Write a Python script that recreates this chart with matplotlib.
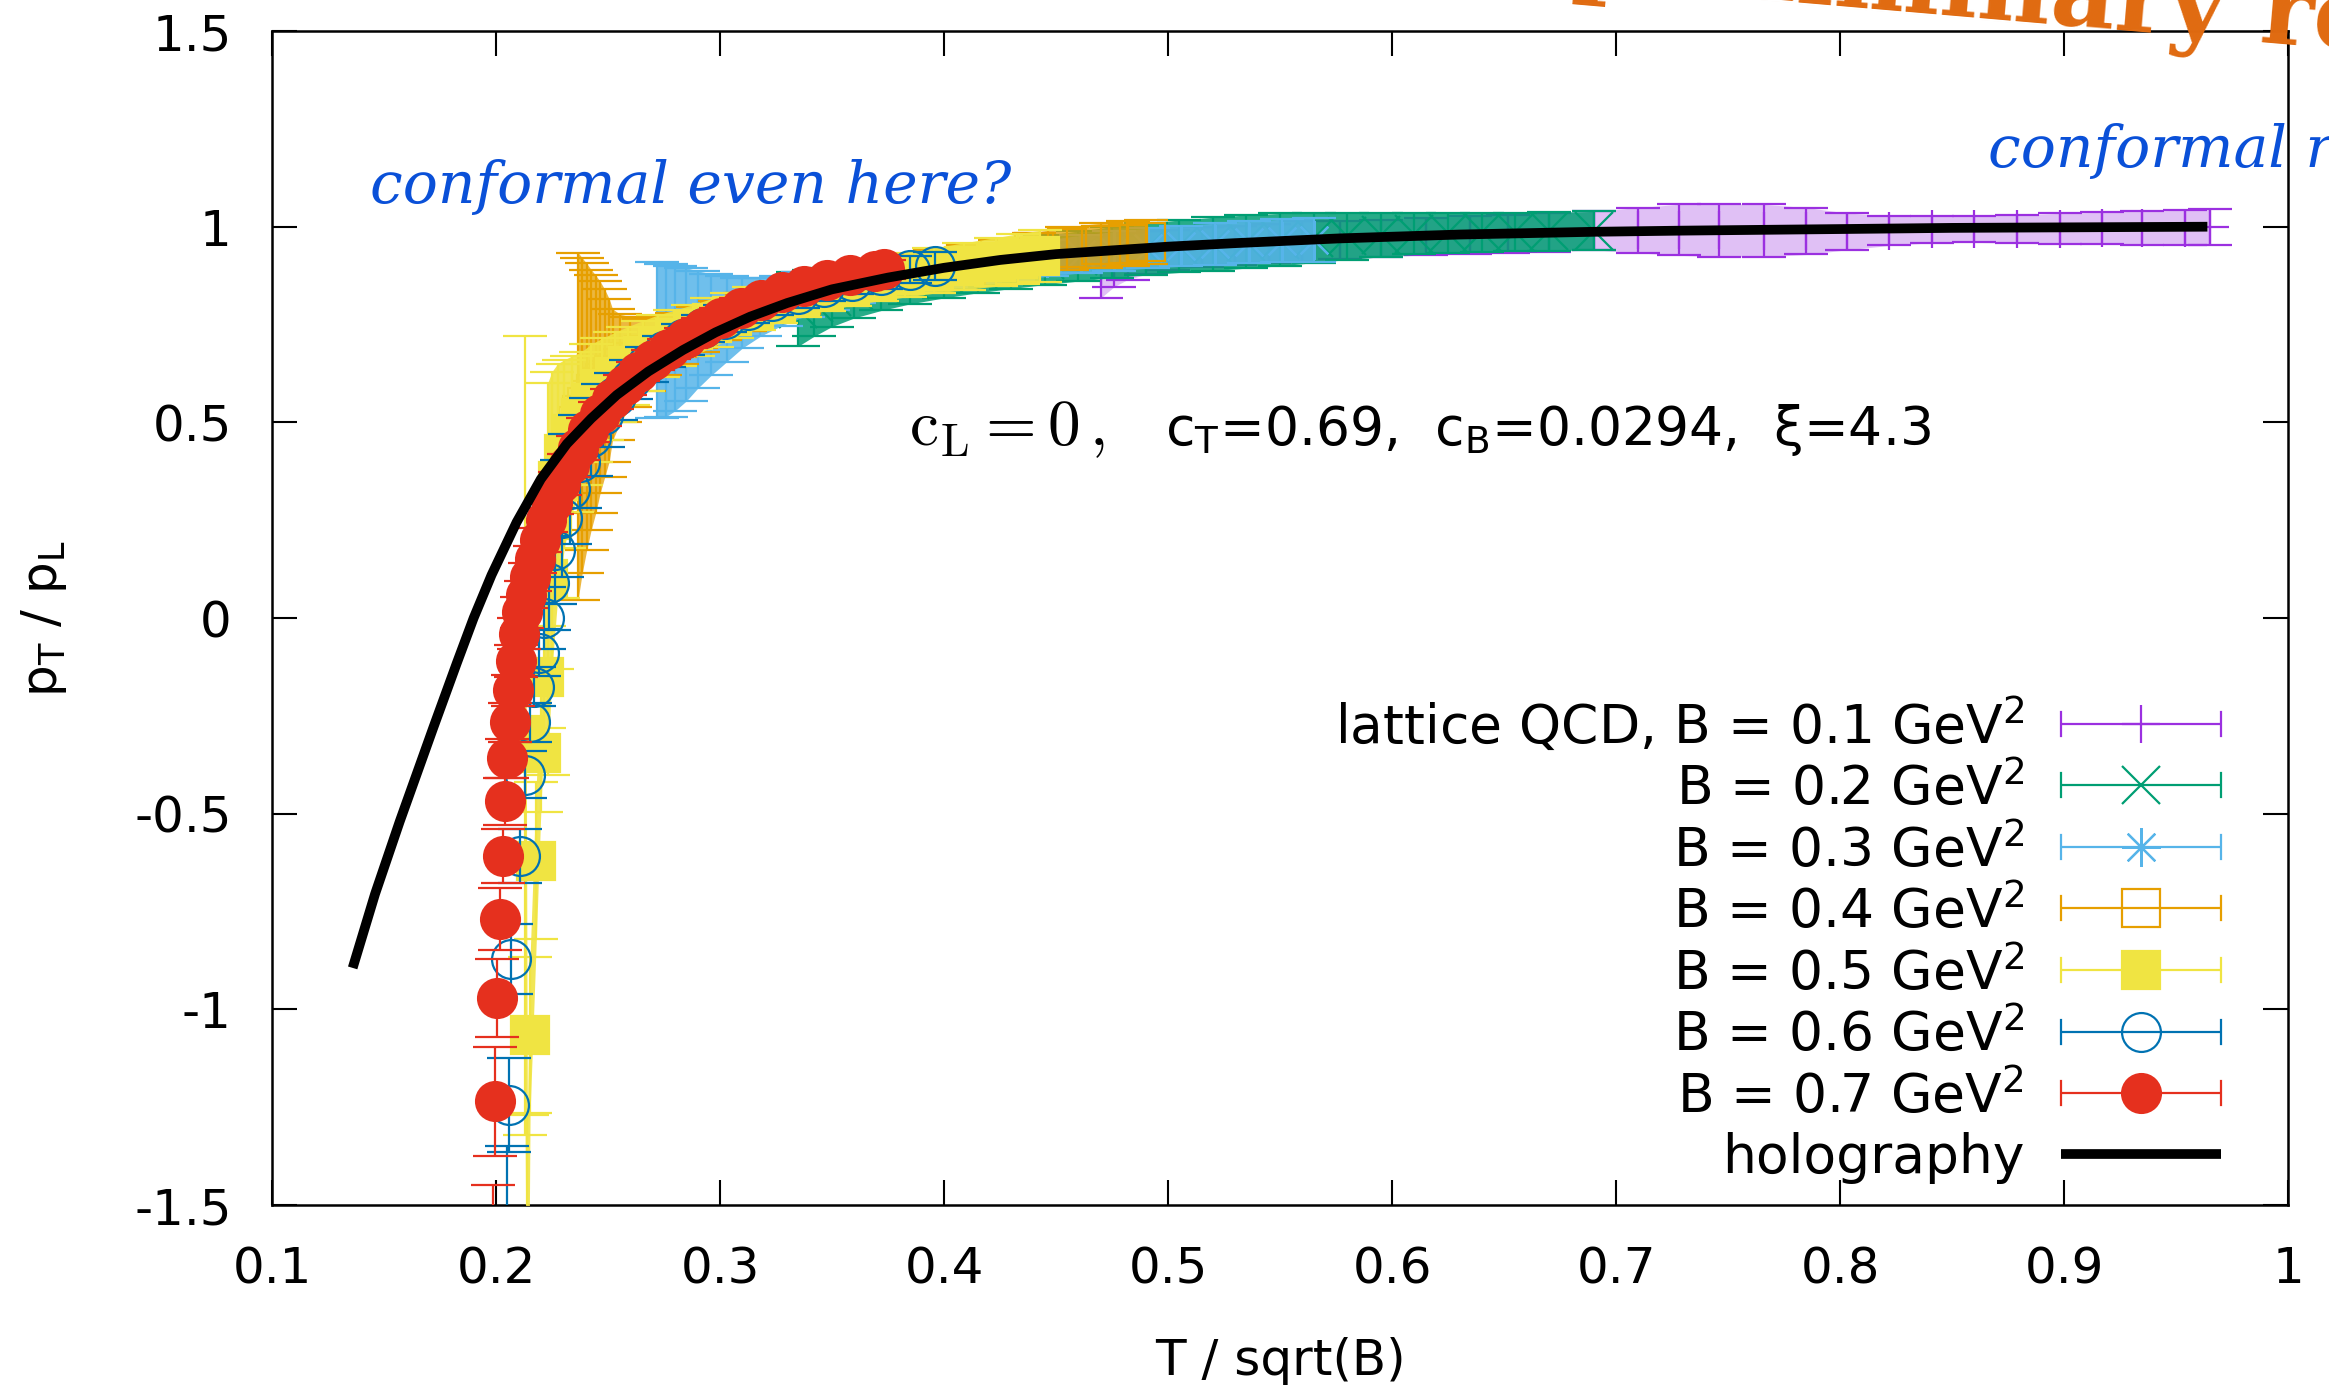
import numpy as np
import matplotlib.pyplot as plt
from matplotlib.lines import Line2D
from matplotlib.legend_handler import HandlerBase
from matplotlib.ticker import FormatStrFormatter

plt.rcParams['font.family'] = 'DejaVu Sans'
plt.rcParams['mathtext.fontset'] = 'dejavusans'
plt.rcParams['axes.unicode_minus'] = False

# lattice QCD, pT/pL vs T/sqrt(B) for each field strength
x_b01 = [0.470, 0.476, 0.482, 0.490, 0.500, 0.515, 0.530, 0.545, 0.560, 0.577, 0.595,
         0.615, 0.635, 0.652, 0.670, 0.690, 0.710, 0.728, 0.746, 0.766, 0.785, 0.803,
         0.822, 0.841, 0.860, 0.879, 0.898, 0.917, 0.935, 0.954, 0.965]
y_b01 = [0.900, 0.912, 0.925, 0.933, 0.940, 0.948, 0.953, 0.957, 0.962, 0.966, 0.970,
         0.975, 0.979, 0.982, 0.986, 0.990, 0.991, 0.992, 0.991, 0.990, 0.989, 0.988,
         0.990, 0.993, 0.994, 0.994, 0.995, 0.996, 0.997, 0.997, 0.998]
e_b01 = [0.082, 0.065, 0.060, 0.055, 0.051, 0.050, 0.050, 0.051, 0.053, 0.048, 0.047,
         0.047, 0.048, 0.049, 0.050, 0.049, 0.058, 0.065, 0.068, 0.067, 0.060, 0.047,
         0.038, 0.034, 0.034, 0.036, 0.039, 0.041, 0.043, 0.045, 0.046]

x_b02 = [0.335, 0.342, 0.350, 0.360, 0.372, 0.385, 0.400, 0.415, 0.430, 0.445, 0.460,
         0.475, 0.490, 0.505, 0.520, 0.535, 0.550, 0.565, 0.580, 0.595, 0.610, 0.625,
         0.640, 0.655, 0.670, 0.690]
y_b02 = [0.790, 0.805, 0.820, 0.835, 0.850, 0.865, 0.880, 0.893, 0.905, 0.915, 0.925,
         0.935, 0.943, 0.950, 0.956, 0.962, 0.967, 0.972, 0.976, 0.979, 0.982, 0.984,
         0.986, 0.987, 0.988, 0.990]
e_b02 = [0.095, 0.085, 0.075, 0.068, 0.064, 0.062, 0.062, 0.062, 0.063, 0.063, 0.064,
         0.065, 0.066, 0.067, 0.068, 0.068, 0.067, 0.064, 0.060, 0.056, 0.053, 0.051,
         0.050, 0.049, 0.049, 0.049]

x_b03 = [0.272, 0.276, 0.280, 0.285, 0.290, 0.296, 0.303, 0.310, 0.318, 0.327, 0.337,
         0.348, 0.360, 0.373, 0.387, 0.401, 0.416, 0.431, 0.446, 0.461, 0.476, 0.491,
         0.506, 0.521, 0.536, 0.551, 0.565]
y_b03 = [0.710, 0.710, 0.715, 0.725, 0.737, 0.750, 0.765, 0.780, 0.795, 0.810, 0.826,
         0.840, 0.853, 0.866, 0.878, 0.890, 0.900, 0.910, 0.920, 0.930, 0.938, 0.945,
         0.951, 0.956, 0.961, 0.964, 0.967]
e_b03 = [0.200, 0.195, 0.185, 0.170, 0.150, 0.130, 0.110, 0.090, 0.075, 0.064, 0.057,
         0.052, 0.048, 0.046, 0.045, 0.045, 0.045, 0.046, 0.047, 0.048, 0.050, 0.051,
         0.052, 0.053, 0.054, 0.055, 0.056]

x_b04 = [0.2366, 0.2385, 0.2405, 0.2425, 0.2445, 0.2465, 0.2485, 0.2505, 0.2520, 0.2555,
         0.2600, 0.2660, 0.2730, 0.2810, 0.2900, 0.3000, 0.3110, 0.3230, 0.3360, 0.3500,
         0.3650, 0.3800, 0.3950, 0.4100, 0.4250, 0.4400, 0.4550, 0.4700, 0.4820, 0.4900]
y_b04 = [0.490, 0.518, 0.540, 0.558, 0.572, 0.590, 0.600, 0.608, 0.622, 0.638,
         0.655, 0.672, 0.695, 0.715, 0.738, 0.760, 0.782, 0.805, 0.826, 0.845,
         0.862, 0.878, 0.892, 0.905, 0.920, 0.935, 0.945, 0.952, 0.957, 0.960]
e_b04 = [0.444, 0.402, 0.366, 0.332, 0.304, 0.270, 0.240, 0.208, 0.168, 0.138,
         0.115, 0.092, 0.075, 0.065, 0.058, 0.050, 0.048, 0.045, 0.042, 0.040,
         0.038, 0.037, 0.036, 0.040, 0.045, 0.050, 0.055, 0.057, 0.057, 0.056]

x_b05 = [0.2130, 0.2140, 0.2152, 0.2180, 0.2200, 0.2215, 0.2230, 0.2250, 0.2275, 0.2305,
         0.2340, 0.2380, 0.2425, 0.2475, 0.2530, 0.2590, 0.2655, 0.2725, 0.2800, 0.2880,
         0.2965, 0.3055, 0.3150, 0.3250, 0.3355, 0.3465, 0.3580, 0.3700, 0.3825, 0.3955,
         0.4090, 0.4230, 0.4330, 0.4430]
y_b05 = [-0.300, -1.750, -1.066, -0.620, -0.345, -0.151, 0.100, 0.250, 0.350, 0.420,
         0.470, 0.510, 0.550, 0.585, 0.615, 0.645, 0.670, 0.695, 0.715, 0.735,
         0.755, 0.773, 0.790, 0.806, 0.822, 0.837, 0.851, 0.864, 0.876, 0.888,
         0.899, 0.910, 0.918, 0.925]
e_b05 = [1.020, 0.480, 0.200, 0.200, 0.150, 0.130, 0.500, 0.380, 0.300, 0.240,
         0.200, 0.170, 0.150, 0.130, 0.115, 0.100, 0.090, 0.080, 0.072, 0.066,
         0.062, 0.058, 0.055, 0.053, 0.052, 0.052, 0.053, 0.054, 0.056, 0.058,
         0.060, 0.062, 0.064, 0.066]

x_b06 = [0.2050, 0.2060, 0.2068, 0.2105, 0.2130, 0.2150, 0.2170, 0.2190, 0.2212, 0.2236,
         0.2264, 0.2296, 0.2332, 0.2374, 0.2422, 0.2476, 0.2536, 0.2602, 0.2674, 0.2752,
         0.2836, 0.2926, 0.3022, 0.3124, 0.3232, 0.3346, 0.3466, 0.3590, 0.3718, 0.3850,
         0.3960]
y_b06 = [-1.800, -1.245, -0.871, -0.608, -0.400, -0.266, -0.176, -0.089, 0.000, 0.090,
         0.175, 0.255, 0.330, 0.400, 0.462, 0.518, 0.567, 0.610, 0.648, 0.682,
         0.712, 0.740, 0.765, 0.788, 0.809, 0.828, 0.846, 0.862, 0.877, 0.890,
         0.900]
e_b06 = [0.450, 0.120, 0.090, 0.070, 0.060, 0.050, 0.050, 0.060, 0.080, 0.120,
         0.140, 0.150, 0.140, 0.120, 0.100, 0.080, 0.060, 0.050, 0.045, 0.040,
         0.040, 0.035, 0.035, 0.035, 0.035, 0.035, 0.035, 0.035, 0.035, 0.035,
         0.035]

x_b07 = [0.1985, 0.1996, 0.2004, 0.2018, 0.2031, 0.2040, 0.2049, 0.2062, 0.2076, 0.2090,
         0.2104, 0.2118, 0.2134, 0.2152, 0.2172, 0.2195, 0.2222, 0.2252, 0.2286, 0.2324,
         0.2366, 0.2412, 0.2462, 0.2516, 0.2574, 0.2636, 0.2702, 0.2772, 0.2846, 0.2924,
         0.3006, 0.3092, 0.3182, 0.3276, 0.3374, 0.3476, 0.3582, 0.3690, 0.3730]
y_b07 = [-1.750, -1.235, -0.971, -0.769, -0.608, -0.468, -0.358, -0.266, -0.185, -0.110,
         -0.040, 0.015, 0.060, 0.105, 0.150, 0.200, 0.250, 0.295, 0.344, 0.390,
         0.435, 0.480, 0.522, 0.560, 0.596, 0.630, 0.660, 0.688, 0.716, 0.742,
         0.767, 0.792, 0.813, 0.832, 0.849, 0.863, 0.876, 0.887, 0.891]
e_b07 = [0.300, 0.140, 0.100, 0.080, 0.070, 0.060, 0.050, 0.050, 0.040, 0.040,
         0.040, 0.040, 0.035, 0.035, 0.035, 0.030, 0.030, 0.030, 0.030, 0.030,
         0.030, 0.030, 0.030, 0.025, 0.025, 0.025, 0.025, 0.025, 0.025, 0.025,
         0.025, 0.025, 0.025, 0.025, 0.025, 0.025, 0.025, 0.025, 0.025]

# holographic model curve
x_holo = [0.136, 0.146, 0.157, 0.172, 0.1825, 0.190, 0.198, 0.2092, 0.220, 0.2316,
          0.2425, 0.2539, 0.268, 0.2835, 0.298, 0.3134, 0.330, 0.350, 0.375, 0.400,
          0.425, 0.450, 0.500, 0.530, 0.576, 0.630, 0.690, 0.730, 0.800, 0.850, 0.964]
y_holo = [-0.894, -0.705, -0.520, -0.280, -0.115, 0.000, 0.110, 0.245, 0.355, 0.445,
          0.510, 0.570, 0.630, 0.685, 0.730, 0.770, 0.805, 0.840, 0.870, 0.895,
          0.915, 0.930, 0.949, 0.958, 0.970, 0.980, 0.987, 0.990, 0.994, 0.997, 1.000]

labels = ['lattice QCD, B = 0.1 GeV$^2$', 'B = 0.2 GeV$^2$', 'B = 0.3 GeV$^2$',
          'B = 0.4 GeV$^2$', 'B = 0.5 GeV$^2$', 'B = 0.6 GeV$^2$', 'B = 0.7 GeV$^2$']

series = [
    (x_b01, y_b01, e_b01, '#9b30e0', dict(marker='+'), 0.3),
    (x_b02, y_b02, e_b02, '#009e73', dict(marker='x'), 0.85),
    (x_b03, y_b03, e_b03, '#56b4e9', dict(marker=(8, 2, 0)), 0.85),
    (x_b04, y_b04, e_b04, '#e69f00', dict(marker='s', mfc='none'), 0.75),
    (x_b05, y_b05, e_b05, '#f0e442', dict(marker='s'), 0.9),
    (x_b06, y_b06, e_b06, '#0072b2', dict(marker='o', mfc='none'), 0.0),
    (x_b07, y_b07, e_b07, '#e5301e', dict(marker='o'), 0.0),
]

fig = plt.figure(figsize=(23.29, 13.92), dpi=100)
ax = fig.add_axes([0.1168, 0.1343, 0.8656, 0.8434])

MS = 28
handles = []
for k, (xs, ys, es, col, mk, band) in enumerate(series):
    xs, ys, es = np.asarray(xs), np.asarray(ys), np.asarray(es)
    if band > 0:
        order = np.argsort(xs)
        ax.fill_between(xs[order], (ys - es)[order], (ys + es)[order],
                        color=col, alpha=band, lw=0, zorder=2 + k)
    style = dict(color=col, mec=col, mew=1.6, ms=MS, ls='none')
    style.update(mk)
    ax.errorbar(xs, ys, yerr=es, elinewidth=1.6, capsize=16, capthick=1.6,
                zorder=2.5 + k, **style)
    handles.append(Line2D([], [], lw=1.6, **{kk: v for kk, v in style.items() if kk != 'ls'}))

ax.plot(x_holo, y_holo, color='black', lw=7, solid_capstyle='butt',
        solid_joinstyle='round', zorder=20)
handles.append(Line2D([], [], color='black', lw=7))


class KeySample(HandlerBase):
    # gnuplot-style key entry: bar with end ticks and the point symbol in the middle
    def create_artists(self, legend, orig, xd, yd, w, h, fs, trans):
        y0 = h / 2 - yd
        x0, x1 = -xd, -xd + w
        col = orig.get_color()
        arts = [Line2D([x0, x1], [y0, y0], color=col, lw=orig.get_linewidth(),
                       solid_capstyle='butt')]
        if orig.get_marker() not in (None, 'None', ''):
            for xe in (x0, x1):
                arts.append(Line2D([xe, xe], [y0 - 0.32 * h, y0 + 0.32 * h], color=col,
                                   lw=orig.get_linewidth()))
            arts.append(Line2D([(x0 + x1) / 2], [y0], ls='none', marker=orig.get_marker(),
                               ms=orig.get_markersize(), mfc=orig.get_markerfacecolor(),
                               mec=orig.get_markeredgecolor(),
                               mew=orig.get_markeredgewidth()))
        for a in arts:
            a.set_transform(trans)
        return arts


ax.legend(handles, labels + ['holography'], handler_map={Line2D: KeySample()},
          loc='lower right', bbox_to_anchor=(0.9668, 0.018), frameon=False,
          markerfirst=False, fontsize=38.5, handlelength=3.0, handletextpad=0.68,
          labelspacing=0.17, borderpad=0, borderaxespad=0)

ax.set_xlim(0.1, 1.0)
ax.set_ylim(-1.5, 1.5)
ax.set_xticks([0.1, 0.2, 0.3, 0.4, 0.5, 0.6, 0.7, 0.8, 0.9, 1.0])
ax.set_yticks([-1.5, -1.0, -0.5, 0.0, 0.5, 1.0, 1.5])
ax.xaxis.set_major_formatter(FormatStrFormatter('%g'))
ax.yaxis.set_major_formatter(FormatStrFormatter('%g'))
ax.tick_params(direction='in', length=18, width=1.5, top=True, right=True,
               labelsize=36, pad=29)
for sp in ax.spines.values():
    sp.set_linewidth(1.8)

ax.set_xlabel('T / sqrt(B)', fontsize=36)
ax.set_ylabel('p$_\\mathrm{T}$ / p$_\\mathrm{L}$', fontsize=36)
ax.xaxis.set_label_coords(0.5, -0.112)
ax.yaxis.set_label_coords(-0.1007, 0.5)

# model parameters
ax.text(0.3844, 0.442, r'$\mathrm{c}_\mathrm{L} = 0\,,$', fontsize=47,
        math_fontfamily='cm', ha='left', va='baseline', zorder=30)
ax.text(0.4987, 0.442, 'c$_\\mathrm{T}$=0.69,  c$_\\mathrm{B}$=0.0294,  ξ=4.3', fontsize=38.5,
        ha='left', va='baseline', zorder=30)

blue = '#0a50d8'
ax.text(0.1437, 1.06, 'conformal even here?', fontsize=42, color=blue,
        family='DejaVu Serif', style='italic', ha='left', va='baseline', zorder=30)
ax.text(0.866, 1.153, 'conformal regime', fontsize=42, color=blue,
        family='DejaVu Serif', style='italic', ha='left', va='baseline', zorder=30)

fig.text(0.675, 1.0125, 'preliminary results', fontsize=72, color='#e06a10',
         family='DejaVu Serif', weight='bold', rotation=-4.9, rotation_mode='anchor',
         ha='left', va='baseline')

fig.savefig('out.png', dpi=100)
